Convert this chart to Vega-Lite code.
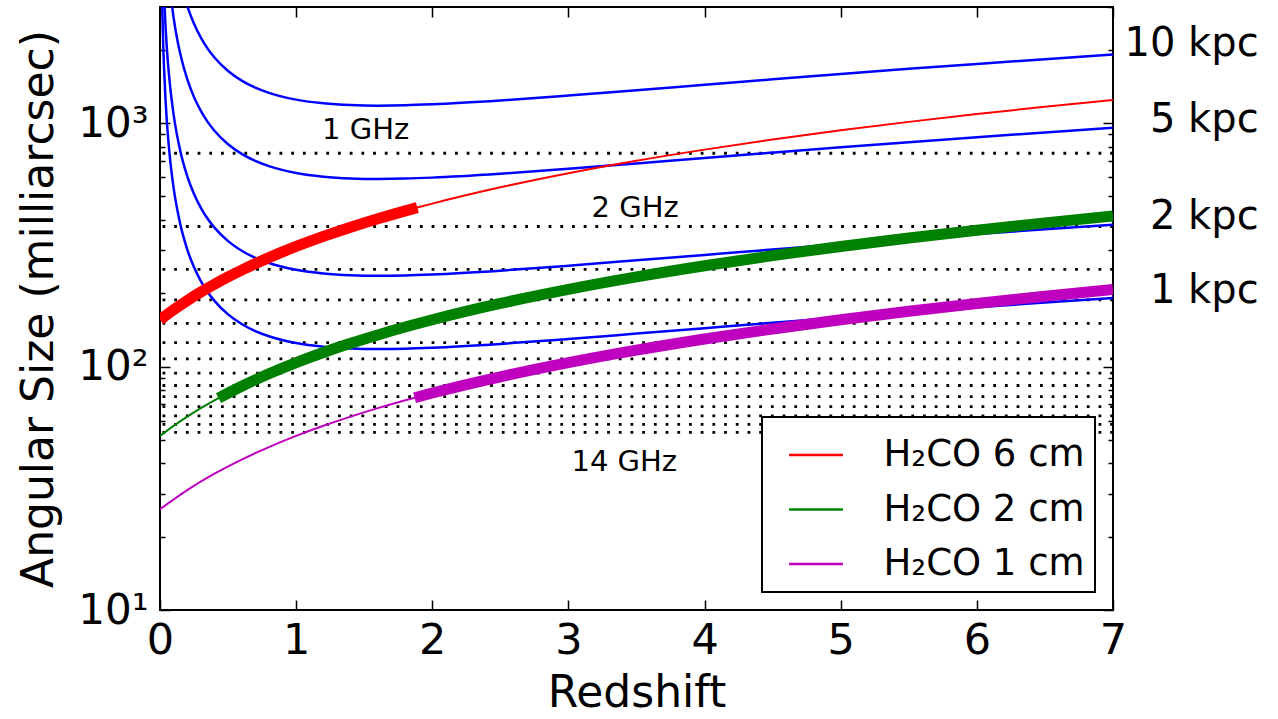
{
  "$schema": "https://vega.github.io/schema/vega-lite/v6.json",
  "width": 953,
  "height": 603,
  "autosize": {"type": "none"},
  "padding": {"left": 160, "top": 7, "right": 165, "bottom": 109},
  "background": "#ffffff",
  "config": {
    "font": "DejaVu Sans",
    "view": {"stroke": "#000000", "strokeWidth": 2},
    "axis": {"labelColor": "#000000", "titleColor": "#000000", "tickColor": "#000000", "grid": false, "domain": false, "titleFontWeight": "normal", "labelFlush": false, "labelOverlap": false, "labelBound": false, "tickWidth": 1.5},
    "legend": {"strokeWidth": 2}
  },
  "datasets": {
    "sizes": [
      {"s": "1 kpc", "z": 0.01, "v": 4875}, {"s": "1 kpc", "z": 0.015, "v": 3270}, {"s": "1 kpc", "z": 0.02, "v": 2467}, {"s": "1 kpc", "z": 0.025, "v": 1986}, {"s": "1 kpc", "z": 0.03, "v": 1665}, {"s": "1 kpc", "z": 0.04, "v": 1264}, {"s": "1 kpc", "z": 0.05, "v": 1023}, {"s": "1 kpc", "z": 0.075, "v": 702.4}, {"s": "1 kpc", "z": 0.1, "v": 542.2}, {"s": "1 kpc", "z": 0.15, "v": 382.5}, {"s": "1 kpc", "z": 0.2, "v": 303.1}, {"s": "1 kpc", "z": 0.25, "v": 255.8}, {"s": "1 kpc", "z": 0.3, "v": 224.5}, {"s": "1 kpc", "z": 0.35, "v": 202.4}, {"s": "1 kpc", "z": 0.4, "v": 186.1}, {"s": "1 kpc", "z": 0.5, "v": 163.8}, {"s": "1 kpc", "z": 0.6, "v": 149.6}, {"s": "1 kpc", "z": 0.7, "v": 139.9}, {"s": "1 kpc", "z": 0.8, "v": 133.2}, {"s": "1 kpc", "z": 1.0, "v": 124.9}, {"s": "1 kpc", "z": 1.2, "v": 120.6}, {"s": "1 kpc", "z": 1.4, "v": 118.6}, {"s": "1 kpc", "z": 1.6, "v": 118.0}, {"s": "1 kpc", "z": 1.8, "v": 118.4}, {"s": "1 kpc", "z": 2.0, "v": 119.5}, {"s": "1 kpc", "z": 2.5, "v": 123.9}, {"s": "1 kpc", "z": 3.0, "v": 129.8}, {"s": "1 kpc", "z": 3.5, "v": 136.6}, {"s": "1 kpc", "z": 4.0, "v": 143.8}, {"s": "1 kpc", "z": 4.5, "v": 151.4}, {"s": "1 kpc", "z": 5.0, "v": 159.2}, {"s": "1 kpc", "z": 5.5, "v": 167.1}, {"s": "1 kpc", "z": 6.0, "v": 175.1}, {"s": "1 kpc", "z": 6.5, "v": 183.2}, {"s": "1 kpc", "z": 7.0, "v": 191.3},
      {"s": "2 kpc", "z": 0.02, "v": 4934}, {"s": "2 kpc", "z": 0.025, "v": 3972}, {"s": "2 kpc", "z": 0.03, "v": 3330}, {"s": "2 kpc", "z": 0.04, "v": 2528}, {"s": "2 kpc", "z": 0.05, "v": 2046}, {"s": "2 kpc", "z": 0.075, "v": 1404.8}, {"s": "2 kpc", "z": 0.1, "v": 1084.4}, {"s": "2 kpc", "z": 0.15, "v": 765.0}, {"s": "2 kpc", "z": 0.2, "v": 606.2}, {"s": "2 kpc", "z": 0.25, "v": 511.6}, {"s": "2 kpc", "z": 0.3, "v": 449.0}, {"s": "2 kpc", "z": 0.35, "v": 404.8}, {"s": "2 kpc", "z": 0.4, "v": 372.2}, {"s": "2 kpc", "z": 0.5, "v": 327.6}, {"s": "2 kpc", "z": 0.6, "v": 299.2}, {"s": "2 kpc", "z": 0.7, "v": 279.8}, {"s": "2 kpc", "z": 0.8, "v": 266.4}, {"s": "2 kpc", "z": 1.0, "v": 249.8}, {"s": "2 kpc", "z": 1.2, "v": 241.2}, {"s": "2 kpc", "z": 1.4, "v": 237.2}, {"s": "2 kpc", "z": 1.6, "v": 236.0}, {"s": "2 kpc", "z": 1.8, "v": 236.8}, {"s": "2 kpc", "z": 2.0, "v": 239.0}, {"s": "2 kpc", "z": 2.5, "v": 247.8}, {"s": "2 kpc", "z": 3.0, "v": 259.6}, {"s": "2 kpc", "z": 3.5, "v": 273.2}, {"s": "2 kpc", "z": 4.0, "v": 287.6}, {"s": "2 kpc", "z": 4.5, "v": 302.8}, {"s": "2 kpc", "z": 5.0, "v": 318.4}, {"s": "2 kpc", "z": 5.5, "v": 334.2}, {"s": "2 kpc", "z": 6.0, "v": 350.2}, {"s": "2 kpc", "z": 6.5, "v": 366.4}, {"s": "2 kpc", "z": 7.0, "v": 382.6},
      {"s": "5 kpc", "z": 0.05, "v": 5115}, {"s": "5 kpc", "z": 0.075, "v": 3512}, {"s": "5 kpc", "z": 0.1, "v": 2711}, {"s": "5 kpc", "z": 0.125, "v": 2231.6}, {"s": "5 kpc", "z": 0.15, "v": 1912.5}, {"s": "5 kpc", "z": 0.2, "v": 1515.4}, {"s": "5 kpc", "z": 0.25, "v": 1279}, {"s": "5 kpc", "z": 0.3, "v": 1122.6}, {"s": "5 kpc", "z": 0.35, "v": 1012}, {"s": "5 kpc", "z": 0.4, "v": 930.6}, {"s": "5 kpc", "z": 0.5, "v": 819.2}, {"s": "5 kpc", "z": 0.6, "v": 748}, {"s": "5 kpc", "z": 0.7, "v": 699.7}, {"s": "5 kpc", "z": 0.8, "v": 666}, {"s": "5 kpc", "z": 1.0, "v": 624.4}, {"s": "5 kpc", "z": 1.2, "v": 602.9}, {"s": "5 kpc", "z": 1.4, "v": 593}, {"s": "5 kpc", "z": 1.6, "v": 590.2}, {"s": "5 kpc", "z": 1.8, "v": 592.1}, {"s": "5 kpc", "z": 2.0, "v": 597.3}, {"s": "5 kpc", "z": 2.5, "v": 619.4}, {"s": "5 kpc", "z": 3.0, "v": 649.1}, {"s": "5 kpc", "z": 3.5, "v": 682.9}, {"s": "5 kpc", "z": 4.0, "v": 719.2}, {"s": "5 kpc", "z": 4.5, "v": 757}, {"s": "5 kpc", "z": 5.0, "v": 795.9}, {"s": "5 kpc", "z": 5.5, "v": 835.4}, {"s": "5 kpc", "z": 6.0, "v": 875.4}, {"s": "5 kpc", "z": 6.5, "v": 915.8}, {"s": "5 kpc", "z": 7.0, "v": 956.3},
      {"s": "10 kpc", "z": 0.125, "v": 4463}, {"s": "10 kpc", "z": 0.15, "v": 3825}, {"s": "10 kpc", "z": 0.175, "v": 3370.5}, {"s": "10 kpc", "z": 0.2, "v": 3031}, {"s": "10 kpc", "z": 0.25, "v": 2558}, {"s": "10 kpc", "z": 0.3, "v": 2245}, {"s": "10 kpc", "z": 0.35, "v": 2024}, {"s": "10 kpc", "z": 0.4, "v": 1861}, {"s": "10 kpc", "z": 0.5, "v": 1638}, {"s": "10 kpc", "z": 0.6, "v": 1496}, {"s": "10 kpc", "z": 0.7, "v": 1399}, {"s": "10 kpc", "z": 0.8, "v": 1332}, {"s": "10 kpc", "z": 1.0, "v": 1249}, {"s": "10 kpc", "z": 1.2, "v": 1206}, {"s": "10 kpc", "z": 1.4, "v": 1186}, {"s": "10 kpc", "z": 1.6, "v": 1180}, {"s": "10 kpc", "z": 1.8, "v": 1184}, {"s": "10 kpc", "z": 2.0, "v": 1195}, {"s": "10 kpc", "z": 2.5, "v": 1239}, {"s": "10 kpc", "z": 3.0, "v": 1298}, {"s": "10 kpc", "z": 3.5, "v": 1366}, {"s": "10 kpc", "z": 4.0, "v": 1438}, {"s": "10 kpc", "z": 4.5, "v": 1514}, {"s": "10 kpc", "z": 5.0, "v": 1592}, {"s": "10 kpc", "z": 5.5, "v": 1671}, {"s": "10 kpc", "z": 6.0, "v": 1751}, {"s": "10 kpc", "z": 6.5, "v": 1832}, {"s": "10 kpc", "z": 7.0, "v": 1913}
    ],
    "h2co": [
      {"line": "H₂CO 6 cm", "z": 0.0, "v": 155.7, "thick": true}, {"line": "H₂CO 6 cm", "z": 0.1, "v": 171.3, "thick": true}, {"line": "H₂CO 6 cm", "z": 0.2, "v": 186.8, "thick": true}, {"line": "H₂CO 6 cm", "z": 0.3, "v": 202.4, "thick": true}, {"line": "H₂CO 6 cm", "z": 0.4, "v": 218.0, "thick": true}, {"line": "H₂CO 6 cm", "z": 0.5, "v": 233.6, "thick": true}, {"line": "H₂CO 6 cm", "z": 0.6, "v": 249.1, "thick": true}, {"line": "H₂CO 6 cm", "z": 0.8, "v": 280.3, "thick": true}, {"line": "H₂CO 6 cm", "z": 1.0, "v": 311.4, "thick": true}, {"line": "H₂CO 6 cm", "z": 1.2, "v": 342.5, "thick": true}, {"line": "H₂CO 6 cm", "z": 1.4, "v": 373.7, "thick": true}, {"line": "H₂CO 6 cm", "z": 1.6, "v": 404.8, "thick": true}, {"line": "H₂CO 6 cm", "z": 1.89, "v": 450.0, "thick": true}, {"line": "H₂CO 6 cm", "z": 2.0, "v": 467.1, "thick": false}, {"line": "H₂CO 6 cm", "z": 2.5, "v": 545.0, "thick": false}, {"line": "H₂CO 6 cm", "z": 3.0, "v": 622.8, "thick": false}, {"line": "H₂CO 6 cm", "z": 3.5, "v": 700.7, "thick": false}, {"line": "H₂CO 6 cm", "z": 4.0, "v": 778.5, "thick": false}, {"line": "H₂CO 6 cm", "z": 4.5, "v": 856.4, "thick": false}, {"line": "H₂CO 6 cm", "z": 5.0, "v": 934.2, "thick": false}, {"line": "H₂CO 6 cm", "z": 5.5, "v": 1012.1, "thick": false}, {"line": "H₂CO 6 cm", "z": 6.0, "v": 1089.9, "thick": false}, {"line": "H₂CO 6 cm", "z": 6.5, "v": 1167.8, "thick": false}, {"line": "H₂CO 6 cm", "z": 7.0, "v": 1245.6, "thick": false},
      {"line": "H₂CO 2 cm", "z": 0.0, "v": 51.9, "thick": false}, {"line": "H₂CO 2 cm", "z": 0.1, "v": 57.1, "thick": false}, {"line": "H₂CO 2 cm", "z": 0.2, "v": 62.3, "thick": false}, {"line": "H₂CO 2 cm", "z": 0.3, "v": 67.5, "thick": false}, {"line": "H₂CO 2 cm", "z": 0.43, "v": 74.2, "thick": true}, {"line": "H₂CO 2 cm", "z": 0.6, "v": 83.0, "thick": true}, {"line": "H₂CO 2 cm", "z": 0.8, "v": 93.4, "thick": true}, {"line": "H₂CO 2 cm", "z": 1.0, "v": 103.8, "thick": true}, {"line": "H₂CO 2 cm", "z": 1.2, "v": 114.2, "thick": true}, {"line": "H₂CO 2 cm", "z": 1.4, "v": 124.6, "thick": true}, {"line": "H₂CO 2 cm", "z": 1.6, "v": 134.9, "thick": true}, {"line": "H₂CO 2 cm", "z": 1.8, "v": 145.3, "thick": true}, {"line": "H₂CO 2 cm", "z": 2.0, "v": 155.7, "thick": true}, {"line": "H₂CO 2 cm", "z": 2.5, "v": 181.7, "thick": true}, {"line": "H₂CO 2 cm", "z": 3.0, "v": 207.6, "thick": true}, {"line": "H₂CO 2 cm", "z": 3.5, "v": 233.6, "thick": true}, {"line": "H₂CO 2 cm", "z": 4.0, "v": 259.5, "thick": true}, {"line": "H₂CO 2 cm", "z": 4.5, "v": 285.5, "thick": true}, {"line": "H₂CO 2 cm", "z": 5.0, "v": 311.4, "thick": true}, {"line": "H₂CO 2 cm", "z": 5.5, "v": 337.4, "thick": true}, {"line": "H₂CO 2 cm", "z": 6.0, "v": 363.3, "thick": true}, {"line": "H₂CO 2 cm", "z": 6.5, "v": 389.3, "thick": true}, {"line": "H₂CO 2 cm", "z": 7.0, "v": 415.2, "thick": true},
      {"line": "H₂CO 1 cm", "z": 0.0, "v": 25.95, "thick": false}, {"line": "H₂CO 1 cm", "z": 0.2, "v": 31.1, "thick": false}, {"line": "H₂CO 1 cm", "z": 0.4, "v": 36.3, "thick": false}, {"line": "H₂CO 1 cm", "z": 0.6, "v": 41.5, "thick": false}, {"line": "H₂CO 1 cm", "z": 0.8, "v": 46.7, "thick": false}, {"line": "H₂CO 1 cm", "z": 1.0, "v": 51.9, "thick": false}, {"line": "H₂CO 1 cm", "z": 1.2, "v": 57.1, "thick": false}, {"line": "H₂CO 1 cm", "z": 1.4, "v": 62.3, "thick": false}, {"line": "H₂CO 1 cm", "z": 1.6, "v": 67.5, "thick": false}, {"line": "H₂CO 1 cm", "z": 1.87, "v": 74.5, "thick": true}, {"line": "H₂CO 1 cm", "z": 2.0, "v": 77.9, "thick": true}, {"line": "H₂CO 1 cm", "z": 2.5, "v": 90.8, "thick": true}, {"line": "H₂CO 1 cm", "z": 3.0, "v": 103.8, "thick": true}, {"line": "H₂CO 1 cm", "z": 3.5, "v": 116.8, "thick": true}, {"line": "H₂CO 1 cm", "z": 4.0, "v": 129.8, "thick": true}, {"line": "H₂CO 1 cm", "z": 4.5, "v": 142.7, "thick": true}, {"line": "H₂CO 1 cm", "z": 5.0, "v": 155.7, "thick": true}, {"line": "H₂CO 1 cm", "z": 5.5, "v": 168.7, "thick": true}, {"line": "H₂CO 1 cm", "z": 6.0, "v": 181.7, "thick": true}, {"line": "H₂CO 1 cm", "z": 6.5, "v": 194.6, "thick": true}, {"line": "H₂CO 1 cm", "z": 7.0, "v": 207.6, "thick": true}
    ],
    "freqs": [
      {"ghz": 1, "v": 752.3}, {"ghz": 2, "v": 376.2}, {"ghz": 3, "v": 250.8}, {"ghz": 4, "v": 188.1}, {"ghz": 5, "v": 150.5}, {"ghz": 6, "v": 125.4}, {"ghz": 7, "v": 107.5}, {"ghz": 8, "v": 94.0}, {"ghz": 9, "v": 83.6}, {"ghz": 10, "v": 75.2}, {"ghz": 11, "v": 68.4}, {"ghz": 12, "v": 62.7}, {"ghz": 13, "v": 57.9}, {"ghz": 14, "v": 53.7}
    ],
    "ghzlabels": [
      {"t": "1 GHz", "z": 1.51, "v": 940}, {"t": "2 GHz", "z": 3.49, "v": 450}, {"t": "14 GHz", "z": 3.41, "v": 40.5}
    ],
    "kpclabels": [
      {"t": "10 kpc", "z": 8.07, "v": 2119}, {"t": "5 kpc", "z": 8.07, "v": 1032}, {"t": "2 kpc", "z": 8.07, "v": 412}, {"t": "1 kpc", "z": 8.07, "v": 205}
    ]
  },
  "resolve": {"axis": {"x": "independent", "y": "independent"}},
  "layer": [
    {
      "data": {"name": "freqs"},
      "mark": {"type": "rule", "color": "#000000", "strokeWidth": 2.8, "strokeDash": [2.8, 8.9]},
      "encoding": {
        "y": {"field": "v", "type": "quantitative", "scale": {"type": "log", "domain": [10, 3000], "nice": false},
          "axis": {"orient": "left", "values": [20, 30, 40, 50, 60, 70, 80, 90, 200, 300, 400, 500, 600, 700, 800, 900, 2000, 3000], "labels": false, "tickSize": -5, "title": null}}
      }
    },
    {
      "data": {"name": "sizes"},
      "mark": {"type": "line", "color": "#0000ff", "strokeWidth": 2.5, "clip": true, "interpolate": "monotone"},
      "encoding": {
        "x": {"field": "z", "type": "quantitative", "scale": {"domain": [0, 7], "nice": false, "zero": false},
          "axis": {"orient": "bottom", "values": [0, 1, 2, 3, 4, 5, 6, 7], "format": "d", "labelFontSize": 43, "tickSize": -10, "labelPadding": 19, "title": "Redshift", "titleFontSize": 44, "titlePadding": 9}},
        "y": {"field": "v", "type": "quantitative", "scale": {"type": "log", "domain": [10, 3000], "nice": false},
          "axis": {"orient": "left", "values": [10, 100, 1000], "labelExpr": "datum.value == 10 ? '10¹' : datum.value == 100 ? '10²' : '10³'", "labelFontSize": 42, "tickSize": -10, "labelPadding": 22, "title": "Angular Size (milliarcsec)", "titleFontSize": 44, "titlePadding": 16}},
        "detail": {"field": "s", "type": "nominal"}
      }
    },
    {
      "data": {"name": "h2co"},
      "mark": {"type": "line", "strokeWidth": 2, "clip": true, "interpolate": "monotone"},
      "encoding": {
        "x": {"field": "z", "type": "quantitative", "scale": {"domain": [0, 7], "nice": false, "zero": false},
          "axis": {"orient": "top", "values": [0, 1, 2, 3, 4, 5, 6, 7], "labels": false, "tickSize": -10, "title": null}},
        "y": {"field": "v", "type": "quantitative", "scale": {"type": "log", "domain": [10, 3000], "nice": false},
          "axis": {"orient": "right", "values": [10, 100, 1000], "labels": false, "tickSize": -10, "title": null}},
        "color": {"field": "line", "type": "nominal",
          "scale": {"domain": ["H₂CO 6 cm", "H₂CO 2 cm", "H₂CO 1 cm"], "range": ["#ff0000", "#008000", "#bf00bf"]},
          "legend": {"orient": "bottom-right", "offset": 18, "title": null, "symbolType": "stroke", "symbolSize": 2916, "symbolStrokeWidth": 2.5, "labelFontSize": 37, "labelOffset": 39, "labelLimit": 500, "padding": 9.5, "rowPadding": 7.5, "strokeColor": "#000000", "fillColor": "#ffffff", "labelColor": "#000000", "symbolOffset": 16}}
      }
    },
    {
      "data": {"name": "h2co"},
      "transform": [{"filter": "datum.thick"}],
      "mark": {"type": "line", "strokeWidth": 11, "clip": true, "interpolate": "monotone"},
      "encoding": {
        "x": {"field": "z", "type": "quantitative", "scale": {"domain": [0, 7], "nice": false, "zero": false}, "axis": null},
        "y": {"field": "v", "type": "quantitative", "scale": {"type": "log", "domain": [10, 3000], "nice": false},
          "axis": {"orient": "right", "values": [20, 30, 40, 50, 60, 70, 80, 90, 200, 300, 400, 500, 600, 700, 800, 900, 2000, 3000], "labels": false, "tickSize": -5, "title": null}},
        "color": {"field": "line", "type": "nominal", "legend": null},
        "detail": {"field": "line", "type": "nominal"}
      }
    },
    {
      "data": {"name": "ghzlabels"},
      "mark": {"type": "text", "fontSize": 29, "align": "center", "baseline": "middle", "color": "#000000"},
      "encoding": {
        "x": {"field": "z", "type": "quantitative", "axis": null},
        "y": {"field": "v", "type": "quantitative", "axis": null},
        "text": {"field": "t"}
      }
    },
    {
      "data": {"name": "kpclabels"},
      "mark": {"type": "text", "fontSize": 40, "align": "right", "baseline": "middle", "color": "#000000"},
      "encoding": {
        "x": {"field": "z", "type": "quantitative", "axis": null},
        "y": {"field": "v", "type": "quantitative", "axis": null},
        "text": {"field": "t"}
      }
    }
  ]
}
